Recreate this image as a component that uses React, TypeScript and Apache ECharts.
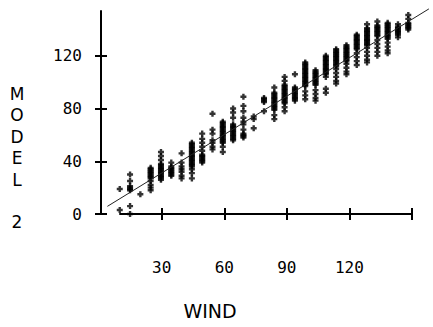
import React, { useEffect, useRef } from "react";
import * as echarts from "echarts";

const windLevels = [10, 15, 20, 25, 30, 35, 40, 45, 50, 55, 60, 65, 70, 75, 80, 85, 90, 95, 100, 105, 110, 115, 120, 125, 130, 135, 140, 145, 150];

const modelValues: number[][] = [
  [19, 3],
  [30, 25, 21, 20, 19, 18, 6, 0],
  [15],
  [35, 34, 33, 32, 31, 30, 29, 28, 27, 25, 22, 20, 18],
  [47, 44, 41, 38, 37, 36, 35, 34, 33, 32, 31, 30, 29, 28, 27, 26],
  [39, 36, 35, 34, 33, 32, 31, 30, 29],
  [46, 39, 36, 34, 32, 29, 27],
  [54, 53, 52, 51, 50, 49, 48, 47, 46, 45, 44, 43, 42, 41, 40, 39, 38, 37, 36, 34, 31, 27],
  [61, 57, 54, 51, 48, 45, 44, 43, 42, 41, 40, 39],
  [76, 64, 61, 56, 54, 51, 49],
  [70, 69, 68, 67, 66, 65, 64, 63, 62, 61, 60, 59, 58, 57, 56, 55, 54, 51, 47],
  [80, 77, 73, 68, 67, 66, 65, 64, 63, 62, 61, 60, 59, 58, 57, 56],
  [89, 82, 78, 73, 70, 68, 64, 61, 60, 59, 58],
  [74, 72, 65],
  [88, 87, 86, 85, 78],
  [96, 92, 91, 90, 89, 88, 87, 86, 85, 84, 83, 82, 81, 80, 79, 75, 72],
  [104, 101, 98, 97, 96, 95, 94, 93, 92, 91, 90, 89, 88, 87, 86, 85, 84, 81, 78],
  [106, 96, 95, 94, 93, 92, 91, 90, 89, 88, 87, 86],
  [115, 114, 113, 112, 111, 110, 109, 108, 107, 106, 105, 104, 103, 102, 101, 100, 99, 98, 97, 93, 90, 87],
  [109, 108, 107, 106, 105, 104, 103, 102, 101, 100, 99, 98, 94, 91, 88, 86],
  [120, 119, 118, 117, 116, 115, 114, 113, 112, 111, 110, 109, 108, 107, 106, 104, 95, 92],
  [125, 124, 123, 122, 121, 120, 119, 118, 117, 116, 115, 114, 113, 112, 110, 107, 104, 101, 99],
  [128, 127, 126, 125, 124, 123, 122, 121, 120, 119, 118, 117, 116, 114, 111, 108, 106],
  [136, 135, 134, 133, 132, 131, 130, 129, 128, 127, 126, 125, 122, 119, 116, 113],
  [144, 141, 140, 139, 138, 137, 136, 135, 134, 133, 132, 131, 130, 129, 128, 126, 123, 120, 117, 115],
  [146, 143, 142, 141, 140, 139, 138, 137, 136, 135, 132, 129, 126, 123, 120],
  [145, 144, 143, 142, 141, 140, 139, 138, 137, 136, 135, 134, 133, 130, 127, 124, 122],
  [144, 142, 141, 140, 139, 138, 137, 136, 134],
  [151, 148, 145, 144, 143, 142, 141, 140],
];

const fitLineX = [4, 160];
const fitLineY = [5.8, 155.6];

const xTickValues = [30, 60, 90, 120, 150];
const xLabelValues = [30, 60, 90, 120];
const yTickValues = [0, 40, 80, 120];
const yLabelValues = [0, 40, 80, 120];

const xTitle = "WIND";
const yTitle = "M\nO\nD\nE\nL\n\n2";

const PLUS = "path://M1.8,0L4.2,0L4.2,1.8L6,1.8L6,4.2L4.2,4.2L4.2,6L1.8,6L1.8,4.2L0,4.2L0,1.8L1.8,1.8Z";

export default function App() {
  const ref = useRef<HTMLDivElement>(null);

  useEffect(() => {
    document.body.style.margin = "0";
    if (!ref.current) return;
    const chart = echarts.init(ref.current, undefined, { renderer: "svg" });

    const points: number[][] = [];
    windLevels.forEach((w, i) => {
      modelValues[i].forEach((v) => points.push([w, v]));
    });
    const linePts = fitLineX.map((x, i) => [x, fitLineY[i]]);

    const axisLineStyle = { color: "#000", width: 2 };
    const mono = "'DejaVu Sans Mono', 'Liberation Mono', monospace";

    // visible axes: x 10..150 over px 120..412, y 0..154 over px 214..11
    const pxX = 292 / 140;
    const pxY = 203 / 154;
    const dataXMin = 0;
    const dataXMax = 162;
    const dataYMin = -4;
    const dataYMax = 160;
    const dataLeft = 120 - (10 - dataXMin) * pxX;
    const dataRight = 433 - (412 + (dataXMax - 150) * pxX);
    const dataTop = 11 - (dataYMax - 154) * pxY;
    const dataBottom = 327 - (214 + (0 - dataYMin) * pxY);

    const hidden = { show: false };

    chart.setOption({
      animation: false,
      backgroundColor: "#fff",
      grid: [
        { left: 120, right: 21, top: 11, bottom: 113 },
        { left: dataLeft, right: dataRight, top: dataTop, bottom: dataBottom },
      ],
      xAxis: [
        {
          type: "value",
          gridIndex: 0,
          min: 10,
          max: 150,
          position: "bottom",
          offset: 27,
          axisLine: { show: true, lineStyle: axisLineStyle },
          axisTick: { show: true, inside: false, length: 6, lineStyle: axisLineStyle, customValues: xTickValues },
          axisLabel: { show: true, customValues: xLabelValues, margin: 18, color: "#000", fontFamily: mono, fontSize: 16 },
          splitLine: { show: false },
        },
        {
          type: "value",
          gridIndex: 0,
          min: 10,
          max: 150,
          position: "bottom",
          offset: 27,
          axisLine: { show: false },
          axisTick: { show: true, inside: true, length: 6, lineStyle: axisLineStyle, customValues: xTickValues },
          axisLabel: { show: false },
          splitLine: { show: false },
        },
        {
          type: "value",
          gridIndex: 1,
          min: dataXMin,
          max: dataXMax,
          axisLine: hidden,
          axisTick: hidden,
          axisLabel: hidden,
          splitLine: hidden,
        },
      ],
      yAxis: [
        {
          type: "value",
          gridIndex: 0,
          min: 0,
          max: 154,
          position: "left",
          offset: 19,
          axisLine: { show: true, lineStyle: axisLineStyle },
          axisTick: { show: true, inside: false, length: 6, lineStyle: axisLineStyle, customValues: yTickValues },
          axisLabel: { show: true, customValues: yLabelValues, margin: 19, color: "#000", fontFamily: mono, fontSize: 16 },
          splitLine: { show: false },
        },
        {
          type: "value",
          gridIndex: 0,
          min: 0,
          max: 154,
          position: "left",
          offset: 19,
          axisLine: { show: false },
          axisTick: { show: true, inside: true, length: 6, lineStyle: axisLineStyle, customValues: yTickValues },
          axisLabel: { show: false },
          splitLine: { show: false },
        },
        {
          type: "value",
          gridIndex: 1,
          min: dataYMin,
          max: dataYMax,
          axisLine: hidden,
          axisTick: hidden,
          axisLabel: hidden,
          splitLine: hidden,
        },
      ],
      graphic: [
        {
          type: "text",
          x: 210,
          y: 310.5,
          style: {
            text: xTitle,
            fontSize: 19,
            fontFamily: "'DejaVu Sans', sans-serif",
            fill: "#000",
            align: "center",
            verticalAlign: "middle",
          },
        },
        {
          type: "text",
          x: 17,
          y: 83.3,
          style: {
            text: yTitle,
            fontSize: 17,
            lineHeight: 21.4,
            fontFamily: "'DejaVu Sans', sans-serif",
            fill: "#000",
            align: "center",
            verticalAlign: "top",
          },
        },
      ],
      series: [
        {
          type: "scatter",
          xAxisIndex: 2,
          yAxisIndex: 2,
          data: points,
          symbol: PLUS,
          symbolSize: 6,
          itemStyle: { color: "#000" },
        },
        {
          type: "line",
          xAxisIndex: 2,
          yAxisIndex: 2,
          data: linePts,
          symbol: "none",
          showSymbol: false,
          lineStyle: { color: "#222", width: 1 },
        },
      ],
    });

    return () => chart.dispose();
  }, []);

  return <div ref={ref} style={{ width: 433, height: 327 }} />;
}
